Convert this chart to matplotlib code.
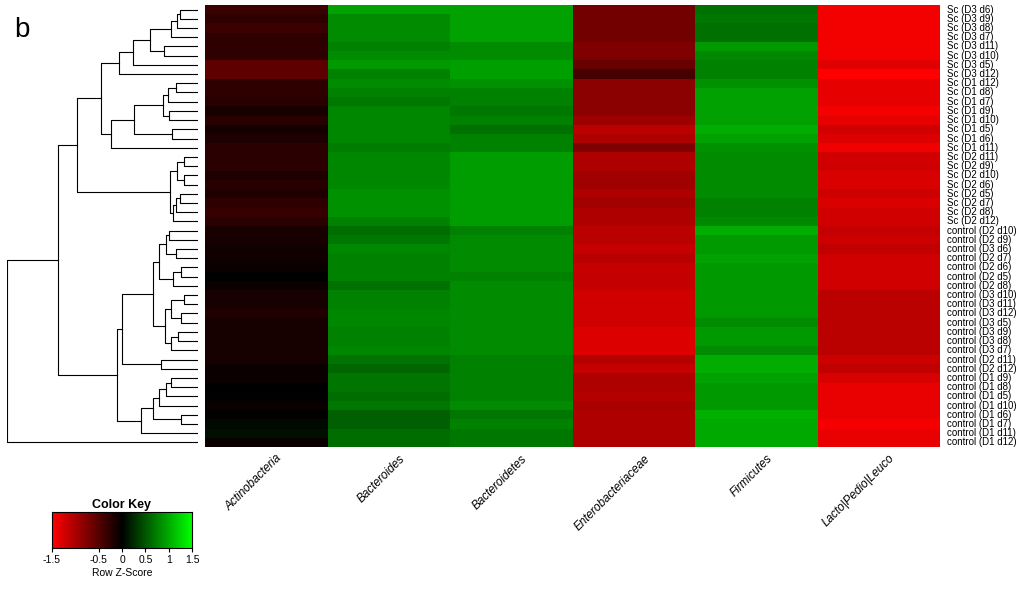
import matplotlib
matplotlib.use("Agg")
import matplotlib.pyplot as plt
import numpy as np
from matplotlib.colors import LinearSegmentedColormap

plt.rcParams["font.family"] = ["Liberation Sans", "DejaVu Sans"]

taxa = ["Actinobacteria", "Bacteroides", "Bacteroidetes",
        "Enterobacteriaceae", "Firmicutes", "Lacto|Pedio|Leuco"]

samples = [
    "Sc (D3 d6)", "Sc (D3 d9)", "Sc (D3 d8)", "Sc (D3 d7)", "Sc (D3 d11)", "Sc (D3 d10)",
    "Sc (D3 d5)", "Sc (D3 d12)", "Sc (D1 d12)", "Sc (D1 d8)", "Sc (D1 d7)", "Sc (D1 d9)",
    "Sc (D1 d10)", "Sc (D1 d5)", "Sc (D1 d6)", "Sc (D1 d11)", "Sc (D2 d11)", "Sc (D2 d9)",
    "Sc (D2 d10)", "Sc (D2 d6)", "Sc (D2 d5)", "Sc (D2 d7)", "Sc (D2 d8)", "Sc (D2 d12)",
    "control (D2 d10)", "control (D2 d9)", "control (D3 d6)", "control (D2 d7)",
    "control (D2 d6)", "control (D2 d5)", "control (D2 d8)", "control (D3 d10)",
    "control (D3 d11)", "control (D3 d12)", "control (D3 d5)", "control (D3 d9)",
    "control (D3 d8)", "control (D3 d7)", "control (D2 d11)", "control (D2 d12)",
    "control (D1 d9)", "control (D1 d8)", "control (D1 d5)", "control (D1 d10)",
    "control (D1 d6)", "control (D1 d7)", "control (D1 d11)", "control (D1 d12)",
]

# row z-scores, one list per taxon, in display order
actino = [-0.34, -0.28, -0.34, -0.28, -0.28, -0.28, -0.56, -0.56, -0.28, -0.28, -0.24, -0.15,
          -0.24, -0.12, -0.18, -0.25, -0.25, -0.25, -0.18, -0.24, -0.18, -0.28, -0.32, -0.25,
          -0.15, -0.15, -0.10, -0.10, -0.07, -0.01, -0.07, -0.14, -0.14, -0.20, -0.13, -0.13,
          -0.13, -0.13, -0.13, -0.07, -0.07, -0.01, 0.0, -0.06, -0.02, 0.05, 0.09, -0.06]
bacteroides = [0.94, 0.82, 0.82, 0.82, 0.75, 0.82, 0.90, 0.75, 0.82, 0.75, 0.70, 0.79,
               0.79, 0.79, 0.79, 0.73, 0.79, 0.79, 0.79, 0.79, 0.85, 0.85, 0.85, 0.75,
               0.64, 0.70, 0.79, 0.75, 0.75, 0.75, 0.66, 0.75, 0.75, 0.79, 0.79, 0.75,
               0.75, 0.79, 0.67, 0.60, 0.68, 0.68, 0.64, 0.70, 0.56, 0.56, 0.64, 0.64]
bacteroidetes = [0.94, 0.94, 0.94, 0.94, 0.82, 0.82, 0.93, 0.93, 0.85, 0.76, 0.76, 0.70,
                 0.75, 0.66, 0.75, 0.75, 0.92, 0.92, 0.92, 0.92, 0.92, 0.92, 0.92, 0.92,
                 0.75, 0.81, 0.81, 0.81, 0.81, 0.75, 0.81, 0.81, 0.81, 0.81, 0.81, 0.81,
                 0.81, 0.81, 0.76, 0.76, 0.76, 0.76, 0.75, 0.82, 0.70, 0.75, 0.70, 0.70]
entero = [-0.67, -0.67, -0.67, -0.67, -0.75, -0.75, -0.62, -0.42, -0.82, -0.82, -0.82, -0.82,
          -0.92, -1.10, -1.02, -0.75, -1.02, -1.02, -0.94, -0.94, -1.02, -0.96, -1.02, -1.02,
          -1.09, -1.09, -1.15, -1.08, -1.15, -1.15, -1.15, -1.22, -1.22, -1.22, -1.22, -1.29,
          -1.29, -1.29, -1.06, -1.15, -1.02, -1.02, -1.06, -0.99, -1.03, -1.03, -1.03, -1.03]
firmicutes = [0.66, 0.70, 0.66, 0.66, 0.90, 0.80, 0.75, 0.75, 0.85, 0.94, 0.94, 0.94,
              0.94, 1.01, 0.94, 0.85, 0.82, 0.82, 0.82, 0.82, 0.82, 0.75, 0.75, 0.80,
              1.01, 0.90, 0.90, 0.94, 0.90, 0.90, 0.90, 0.90, 0.90, 0.90, 0.82, 0.90,
              0.90, 0.82, 1.01, 1.01, 0.94, 0.90, 0.90, 0.90, 1.03, 0.99, 0.99, 0.99]
lacto = [-1.42, -1.42, -1.42, -1.42, -1.42, -1.42, -1.32, -1.50, -1.35, -1.35, -1.35, -1.42,
         -1.35, -1.22, -1.29, -1.41, -1.22, -1.22, -1.27, -1.27, -1.20, -1.27, -1.22, -1.22,
         -1.15, -1.20, -1.13, -1.22, -1.22, -1.22, -1.22, -1.10, -1.10, -1.10, -1.10, -1.10,
         -1.10, -1.10, -1.20, -1.13, -1.27, -1.36, -1.36, -1.36, -1.36, -1.44, -1.36, -1.36]

# row dendrogram: (left, right, height); ints are row indices
dend = (
    (
        (
            (
                ((((((0, 1, 18), 2, 21), 3, 27), (4, 5, 34), 48), 6, 65), 7, 79),
                (((((8, 9, 22), 10, 30), (11, 12, 29), 35), (13, 14, 26), 64), 15, 87),
                97,
            ),
            (((16, 17, 14), (18, 19, 14), 21), (((20, 21, 18), 22, 22), 23, 25), 28),
            121,
        ),
        (
            (
                (
                    (((24, 25, 29), (26, 27, 22), 32), ((28, 29, 17), 30, 25), 39),
                    (((31, 32, 14), (33, 34, 17), 27), ((35, 36, 20), 37, 27), 33),
                    45,
                ),
                (38, 39, 37),
                76,
            ),
            (((((40, 41, 27), 42, 32), 43, 39), (44, 45, 17), 45), 46, 57),
            81,
        ),
        140,
    ),
    47,
    191,
)

values = np.array([actino, bacteroides, bacteroidetes, entero, firmicutes, lacto]).T
cmap = LinearSegmentedColormap.from_list("rg", ["#ff0000", "#000000", "#00ff00"])

W, H = 1024, 592
fig = plt.figure(figsize=(W / 100, H / 100), dpi=100)

# heatmap
ax = fig.add_axes([205 / W, (H - 447) / H, 735 / W, 442 / H])
ax.pcolormesh(np.arange(len(taxa) + 1) - 0.5, np.arange(len(samples) + 1) - 0.5,
              values, cmap=cmap, vmin=-1.5, vmax=1.5)
ax.set_xlim(-0.5, len(taxa) - 0.5)
ax.set_ylim(len(samples) - 0.5, -0.5)
for s in ax.spines.values():
    s.set_visible(False)
ax.set_xticks([])
ax.set_yticks([])
for i, name in enumerate(samples):
    ax.text(len(taxa) - 0.5 + 0.06, i, name, fontsize=7, va="center", ha="left")
for j, name in enumerate(taxa):
    ax.text(j + 0.15, len(samples) + 0.1, name, fontsize=8.5, style="italic",
            rotation=45, ha="right", va="top")

# dendrogram
dax = fig.add_axes([7 / W, (H - 447) / H, 191 / W, 442 / H])


def draw(node):
    if isinstance(node, int):
        return node, 0.0
    left, right, h = node
    y1, h1 = draw(left)
    y2, h2 = draw(right)
    dax.plot([h1, h, h, h2], [y1, y1, y2, y2], color="black", lw=0.8)
    return (y1 + y2) / 2, h


draw(dend)
dax.set_xlim(191, 0)
dax.set_ylim(len(samples) - 0.5, -0.5)
dax.axis("off")

fig.text(14 / W, 1 - 30 / H, "b", fontsize=20, va="center")

# color key
kax = fig.add_axes([52 / W, (H - 548) / H, 140 / W, 36 / H])
grad = np.linspace(-1.5, 1.5, 256)[None, :]
kax.imshow(grad, aspect="auto", cmap=cmap, vmin=-1.5, vmax=1.5,
           extent=[-1.5, 1.5, 0, 1])
kax.set_yticks([])
kax.set_xticks([-1.5, -0.5, 0, 0.5, 1, 1.5])
kax.set_xticklabels(["-1.5", "-0.5", "0", "0.5", "1", "1.5"], fontsize=7.5)
kax.tick_params(axis="x", length=3, pad=2)
kax.set_title("Color Key", fontsize=9, fontweight="bold", pad=3)
kax.set_xlabel("Row Z-Score", fontsize=7.5, labelpad=2)

fig.savefig("out.png", dpi=100)
